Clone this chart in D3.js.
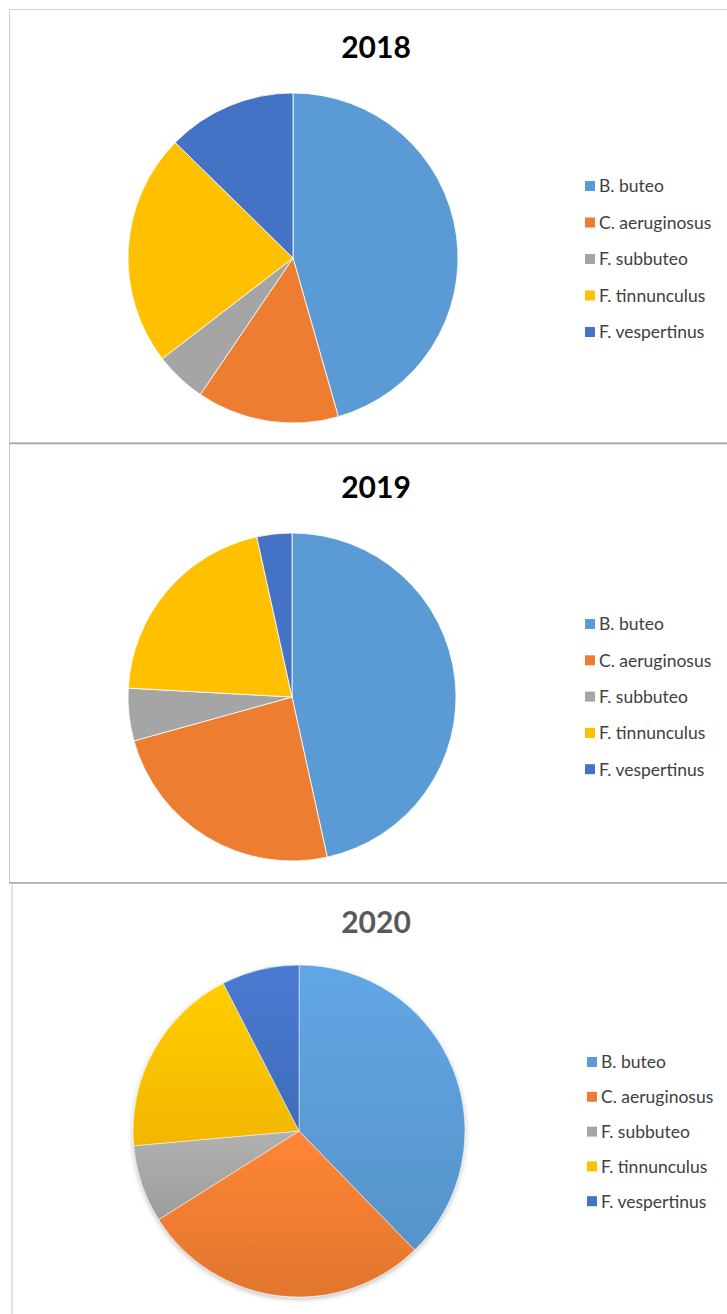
<!DOCTYPE html>
<html>
<head>
<meta charset="utf-8">
<script src="https://cdn.jsdelivr.net/npm/d3@7"></script>
<style>
  body { margin: 0; background: #fff; }
  svg { display: block; }
</style>
</head>
<body>
<svg width="727" height="1314"></svg>
<script>
// species and yearly counts
let species = ["B. buteo", "C. aeruginosus", "F. subbuteo", "F. tinnunculus", "F. vespertinus"];
let years = ["2018", "2019", "2020"];
let counts2018 = [36, 11, 4, 18, 10];
let counts2019 = [27, 14, 3, 12, 2];
let counts2020 = [20, 15, 4, 10, 4];
let colours = ["#5B9BD5", "#ED7D31", "#A5A5A5", "#FFC000", "#4472C4"];

let panels = [
    {year: years[0], values: counts2018, cx: 293, cy: 258, r: 165, titleY: 58, legendY: 186, legendStep: 36.5, legendX: 585, flat: true},
    {year: years[1], values: counts2019, cx: 292, cy: 697, r: 164, titleY: 498, legendY: 624, legendStep: 36.3, legendX: 585, flat: true},
    {year: years[2], values: counts2020, cx: 299, cy: 1131, r: 166, titleY: 933, legendY: 1062, legendStep: 34.8, legendX: 587, flat: false}
];

var svg = d3.select("svg");
var defs = svg.append("defs");

// gradients + shadow for the styled 2020 chart
colours.forEach(function(c, i) {
    var g = defs.append("linearGradient")
        .attr("id", "grad" + i)
        .attr("x1", 0).attr("y1", 0).attr("x2", 0).attr("y2", 1);
    g.append("stop").attr("offset", "0%").attr("stop-color", d3.color(c).brighter(0.2));
    g.append("stop").attr("offset", "100%").attr("stop-color", d3.color(c).darker(0.15));
});
var shadow = defs.append("filter").attr("id", "shadow")
    .attr("x", "-10%").attr("y", "-10%").attr("width", "120%").attr("height", "120%");
shadow.append("feDropShadow")
    .attr("dx", 0).attr("dy", 2).attr("stdDeviation", 2.5)
    .attr("flood-color", "#000").attr("flood-opacity", 0.25);

var colour = d3.scaleOrdinal().domain(species).range(colours);

var pie = d3.pie().sort(null).value(function(d) { return d.value; });

// frames
svg.append("rect")
    .attr("x", 9.5).attr("y", 9.5).attr("width", 730).attr("height", 433)
    .attr("fill", "none").attr("stroke", "#d0d0d0");
svg.append("rect")
    .attr("x", 9.5).attr("y", 443.5).attr("width", 730).attr("height", 439)
    .attr("fill", "none").attr("stroke", "#c8c8c8");
svg.append("line")
    .attr("x1", 9).attr("x2", 727).attr("y1", 443.5).attr("y2", 443.5)
    .attr("stroke", "#a8a8a8").attr("stroke-width", 1.5);
svg.append("line")
    .attr("x1", 9).attr("x2", 727).attr("y1", 883).attr("y2", 883)
    .attr("stroke", "#a8a8a8").attr("stroke-width", 1.5);
svg.append("line")
    .attr("x1", 12).attr("x2", 12).attr("y1", 885).attr("y2", 1314)
    .attr("stroke", "#e2e2e2").attr("stroke-width", 2);

panels.forEach(function(p) {
    var data = species.map(function(s, i) { return {name: s, value: p.values[i], idx: i}; });
    var arc = d3.arc().innerRadius(0).outerRadius(p.r);

    var g = svg.append("g").attr("transform", "translate(" + p.cx + "," + p.cy + ")");
    if (!p.flat) g.attr("filter", "url(#shadow)");

    g.selectAll("path")
        .data(pie(data))
        .enter()
        .append("path")
        .attr("d", arc)
        .attr("fill", function(d) { return p.flat ? colour(d.data.name) : "url(#grad" + d.data.idx + ")"; })
        .attr("stroke", "#fff")
        .attr("stroke-width", p.flat ? 0.8 : 0.5);

    svg.append("text")
        .attr("x", 376).attr("y", p.titleY)
        .attr("text-anchor", "middle")
        .style("font-family", "Lato, 'Open Sans', sans-serif")
        .style("font-weight", "bold")
        .style("font-size", "30px")
        .attr("fill", p.flat ? "#000" : "#595959")
        .text(p.year);

    var leg = svg.append("g")
        .selectAll("g")
        .data(species)
        .enter()
        .append("g")
        .attr("transform", function(d, i) { return "translate(" + p.legendX + "," + (p.legendY + i * p.legendStep) + ")"; });
    leg.append("rect")
        .attr("x", 0).attr("y", -5).attr("width", 10).attr("height", 10)
        .attr("fill", function(d) { return colour(d); });
    leg.append("text")
        .attr("x", 14).attr("y", 0)
        .attr("dy", "0.36em")
        .style("font-family", "Lato, 'Open Sans', sans-serif")
        .style("font-size", "17.5px")
        .attr("fill", "#404040")
        .text(function(d) { return d; });
});
</script>
</body>
</html>
